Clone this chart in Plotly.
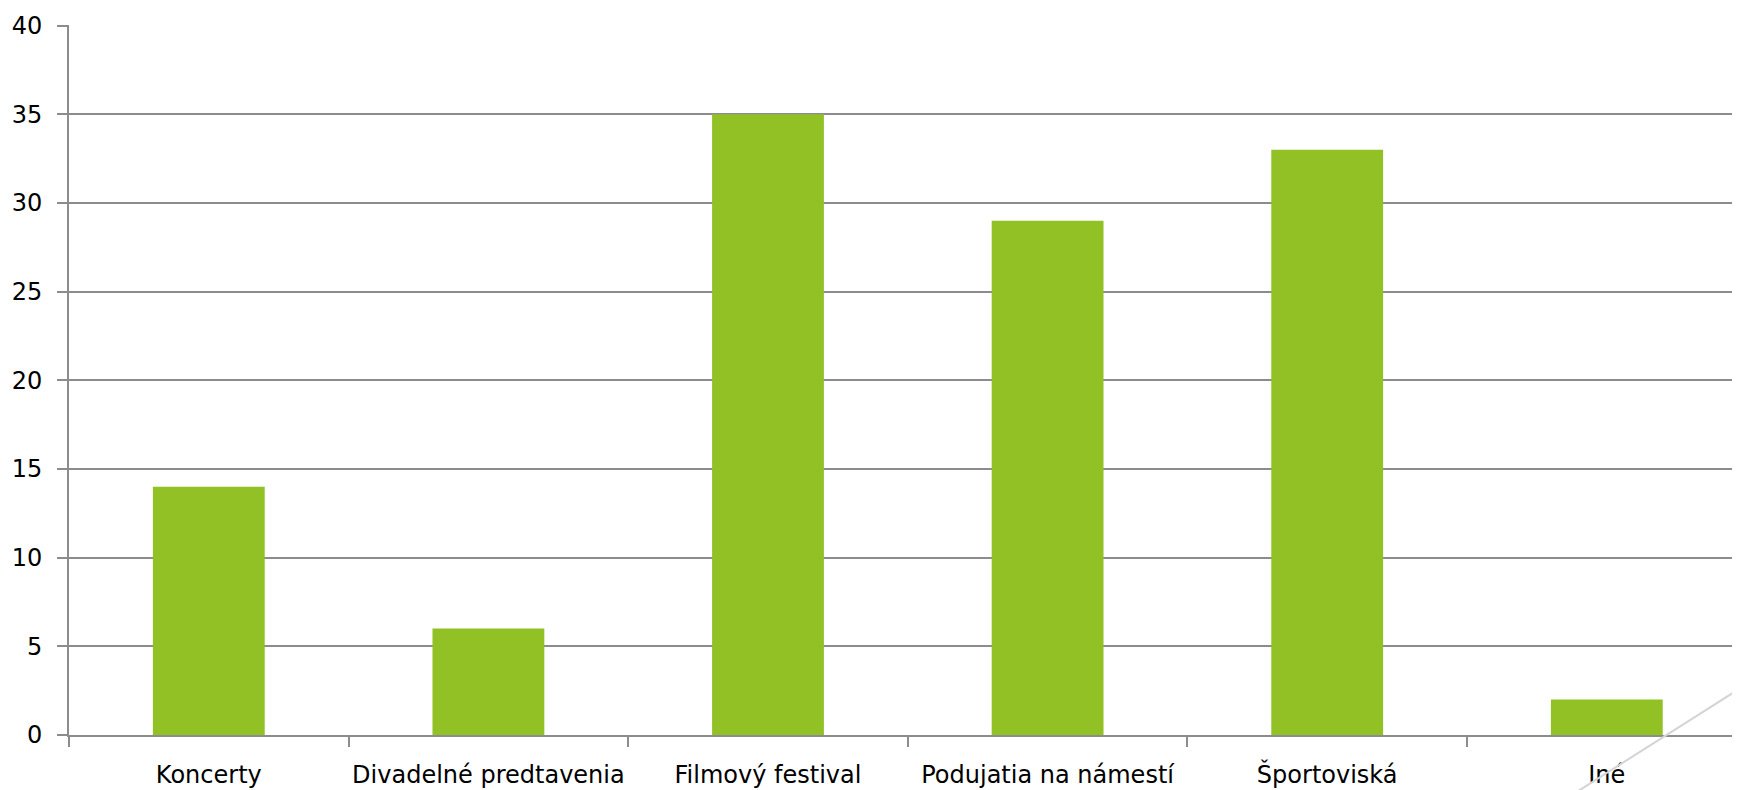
import plotly.graph_objects as go

categories = ["Koncerty", "Divadelné predtavenia", "Filmový festival",
              "Podujatia na námestí", "Športoviská", "Iné"]
values = [14, 6, 35, 29, 33, 2]
y_ticks = [0, 5, 10, 15, 20, 25, 30, 35, 40]

# page has an 8px body margin; size the figure so the plot reaches the window edge
OFF = 8
W, H = 1740 - OFF, 790 - OFF
left, top = 69 - OFF, 24.5 - OFF
plot_bottom_page = 734.6
bottom = 790 - plot_bottom_page
cat_px = 279.6
plot_w = W - left
plot_h = H - top - bottom
x_max = -0.5 + plot_w / cat_px

grid = "#8c8c8c"
font = dict(family="DejaVu Sans", size=24, color="#000000")


def px_to_paper(px, py):
    return (px - 69) / plot_w, (plot_bottom_page - py) / plot_h


x0, y0 = px_to_paper(1576, 792)
x1, y1 = px_to_paper(1740, 688)

fig = go.Figure(go.Bar(
    x=categories, y=values, width=0.4,
    marker=dict(color="#92C126", line=dict(width=0)),
))

fig.update_layout(
    width=W, height=H,
    margin=dict(l=left, r=0, t=top, b=bottom, autoexpand=False),
    paper_bgcolor="white", plot_bgcolor="white",
    font=font, showlegend=False,
    xaxis=dict(
        type="category", range=[-0.5, x_max], tickson="boundaries",
        showgrid=False, showline=True, linecolor=grid, linewidth=2,
        ticks="outside", ticklen=10, tickwidth=2, tickcolor=grid,
        ticklabelstandoff=17, tickfont=font, tickangle=0, fixedrange=True,
    ),
    yaxis=dict(
        range=[0, 40.04], tickvals=y_ticks, showgrid=True, gridcolor=grid,
        gridwidth=2, showline=True, linecolor=grid, linewidth=2,
        ticks="outside", ticklen=10, tickwidth=2, tickcolor=grid,
        ticklabelstandoff=10, tickfont=font, zeroline=False,
    ),
    shapes=[dict(type="line", xref="paper", yref="paper",
                 x0=x0, y0=y0, x1=x1, y1=y1,
                 line=dict(color="#d4d4d4", width=2), layer="above")],
)

fig.write_html("out.html")
